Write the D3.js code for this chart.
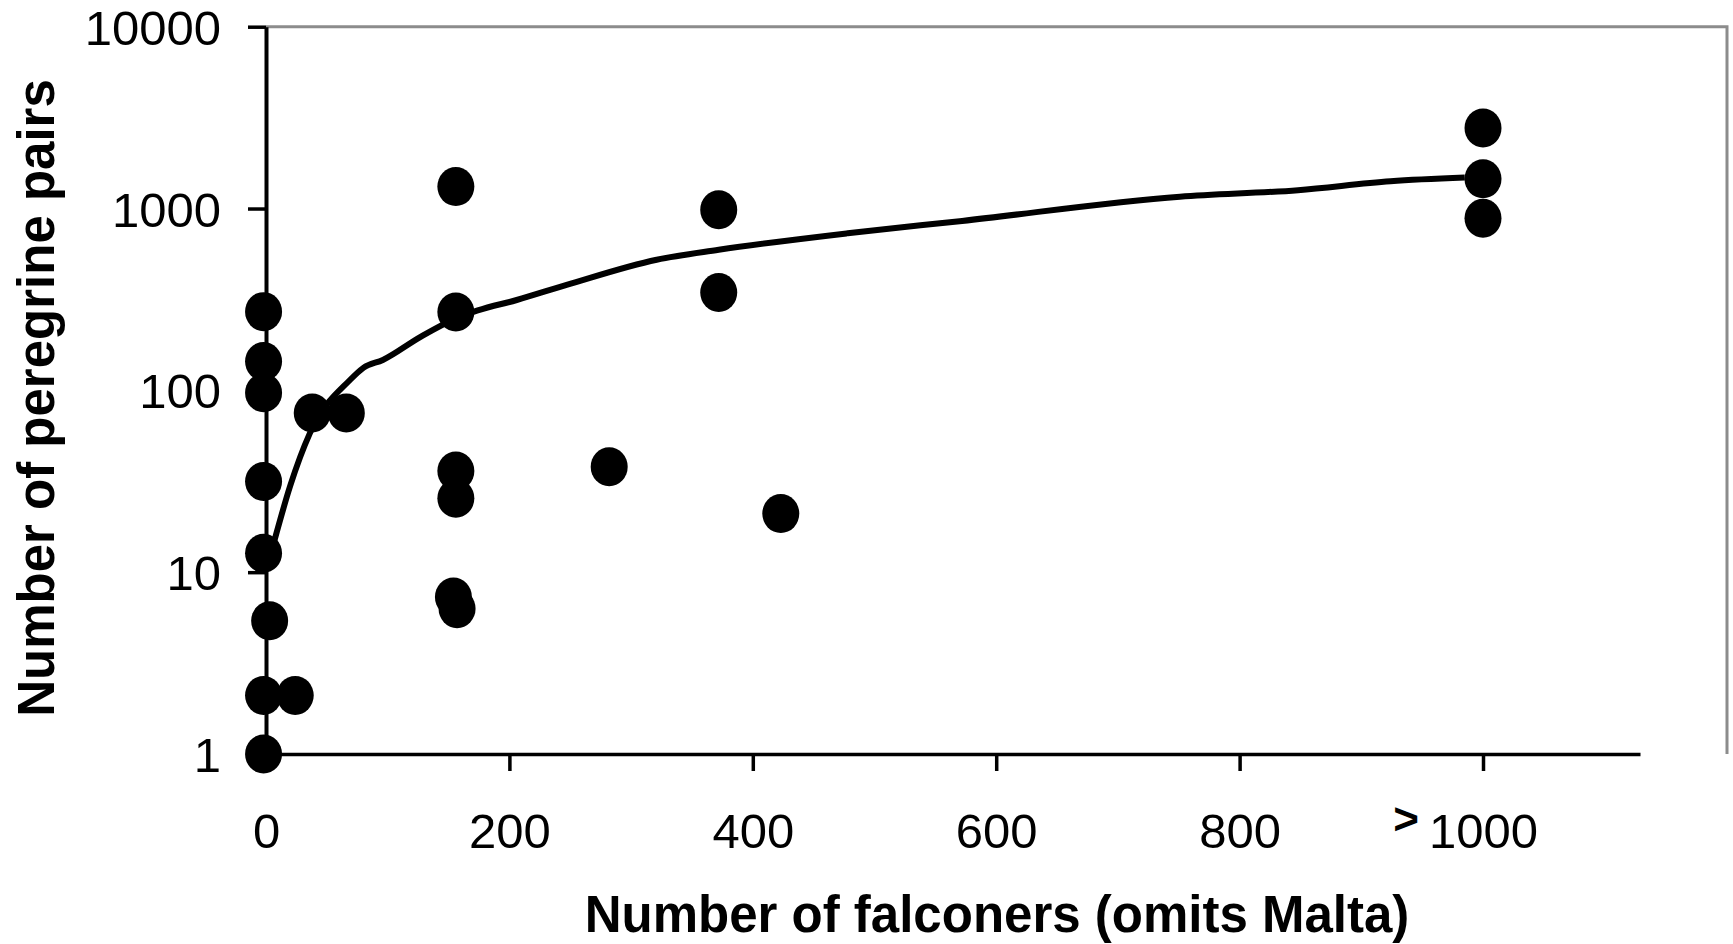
<!DOCTYPE html>
<head>
	<script type="text/javascript" src="https://cdn.jsdelivr.net/npm/d3@7"></script>
</head>
<style type="text/css">
body{
	margin: 0;
	background: #fff;
}
.chart text{
	font-family: "Liberation Sans", Arial, sans-serif;
	fill: #000;
}
.axis path,
.axis line{
	stroke: #000;
	stroke-width: 3.5px;
	fill: none;
}
.axis text{
	font-size: 49px;
}
.frame{
	stroke: #8c8c8c;
	stroke-width: 3px;
	fill: none;
}
.fit{
	fill: none;
	stroke: #000;
	stroke-width: 6px;
	stroke-linejoin: round;
	stroke-linecap: butt;
}
.dot{
	fill: #000;
}
.title{
	font-size: 51px;
	font-weight: bold;
}
</style>
<body>
	<div class="viz"></div>
</body>
<script type="text/javascript">
// scatter points: falconers vs peregrine pairs
var falconers = [-2, -2, -2, -2, -2, 3, -2, 24, -2, 38, 66, 156, 156, 156, 156, 154, 157, 282, 372, 372, 423, 1000, 1000, 1000];
var pairs     = [271, 144, 97, 31.5, 12.7, 5.4, 2.1, 2.1, 1, 75, 75, 270, 1320, 36, 25.5, 7.3, 6.3, 38, 985, 345, 21, 2775, 1456, 885];

// fitted curve
var fitX = [7, 20, 36, 69, 80, 96, 127, 155, 174, 206, 247, 321, 372, 478, 572, 751, 848, 924, 985];
var fitY = [15, 30, 58, 114, 133, 147, 197, 247, 275, 314, 380, 523, 593, 731, 855, 1161, 1262, 1413, 1480];

var xTicks = [0, 200, 400, 600, 800, 1000];
var xTickLabels = ["0", "200", "400", "600", "800", ">1000"];
var yTicks = [1, 10, 100, 1000, 10000];
var yTickLabels = ["1", "10", "100", "1000", "10000"];

var width = 1733, height = 944;

var svg = d3.select(".viz").append("svg")
	.attr("class", "chart")
	.attr("width", width).attr("height", height);

var x = d3.scaleLinear().domain([0, 1129]).range([266, 1640]);
var y = d3.scaleLog().domain([1, 10000]).range([754, 26.7]);

// grey plot-area frame (top and right)
svg.append("path").attr("class", "frame")
	.attr("d", "M" + x(0) + "," + y(10000) + "H1727V" + y(1));

// y axis
var yaxis = d3.axisLeft(y).tickValues(yTicks)
	.tickFormat(function(d, i){ return yTickLabels[i]; })
	.tickSize(18).tickPadding(27).tickSizeOuter(0);
var gy = svg.append("g").attr("class", "axis")
	.attr("transform", "translate(" + x(0) + ",0)")
	.call(yaxis);
gy.selectAll("text").attr("dy", "0.36em");
gy.select(".domain").style("stroke-width", "4px");

// x axis
var xaxis = d3.axisBottom(x).tickValues(xTicks)
	.tickFormat(function(d, i){ return xTickLabels[i]; })
	.tickSize(17).tickSizeOuter(0);
var gx = svg.append("g").attr("class", "axis")
	.attr("transform", "translate(0," + y(1) + ")")
	.call(xaxis);
gx.selectAll("text").attr("y", 94).attr("dy", null);
gx.selectAll(".tick").each(function(){
	var t = d3.select(this).select("text");
	var label = t.text();
	if (label.charAt(0) == ">") {
		t.text(label.slice(1));
		var w = t.node().getBBox().width;
		d3.select(this).append("text")
			.attr("x", -w / 2 - 10).attr("y", 80)
			.attr("text-anchor", "end")
			.style("font-size", "44px").style("font-weight", "bold")
			.text(">");
	}
});

// fitted line
var line = d3.line()
	.x(function(d){ return x(d[0]); })
	.y(function(d){ return y(d[1]); })
	.curve(d3.curveMonotoneX);
svg.append("path").attr("class", "fit")
	.attr("d", line(d3.zip(fitX, fitY)));

// dots
svg.selectAll(".dot").data(d3.zip(falconers, pairs)).enter()
	.append("ellipse").attr("class", "dot")
	.attr("cx", function(d){ return x(d[0]); })
	.attr("cy", function(d){ return y(d[1]); })
	.attr("rx", 18.5).attr("ry", 19.5);

// axis titles
svg.append("text").attr("class", "title")
	.attr("text-anchor", "middle")
	.attr("transform", "translate(54,398) rotate(-90)")
	.text("Number of peregrine pairs");
svg.append("text").attr("class", "title")
	.attr("text-anchor", "middle")
	.attr("x", 997).attr("y", 932)
	.text("Number of falconers (omits Malta)");
</script>
